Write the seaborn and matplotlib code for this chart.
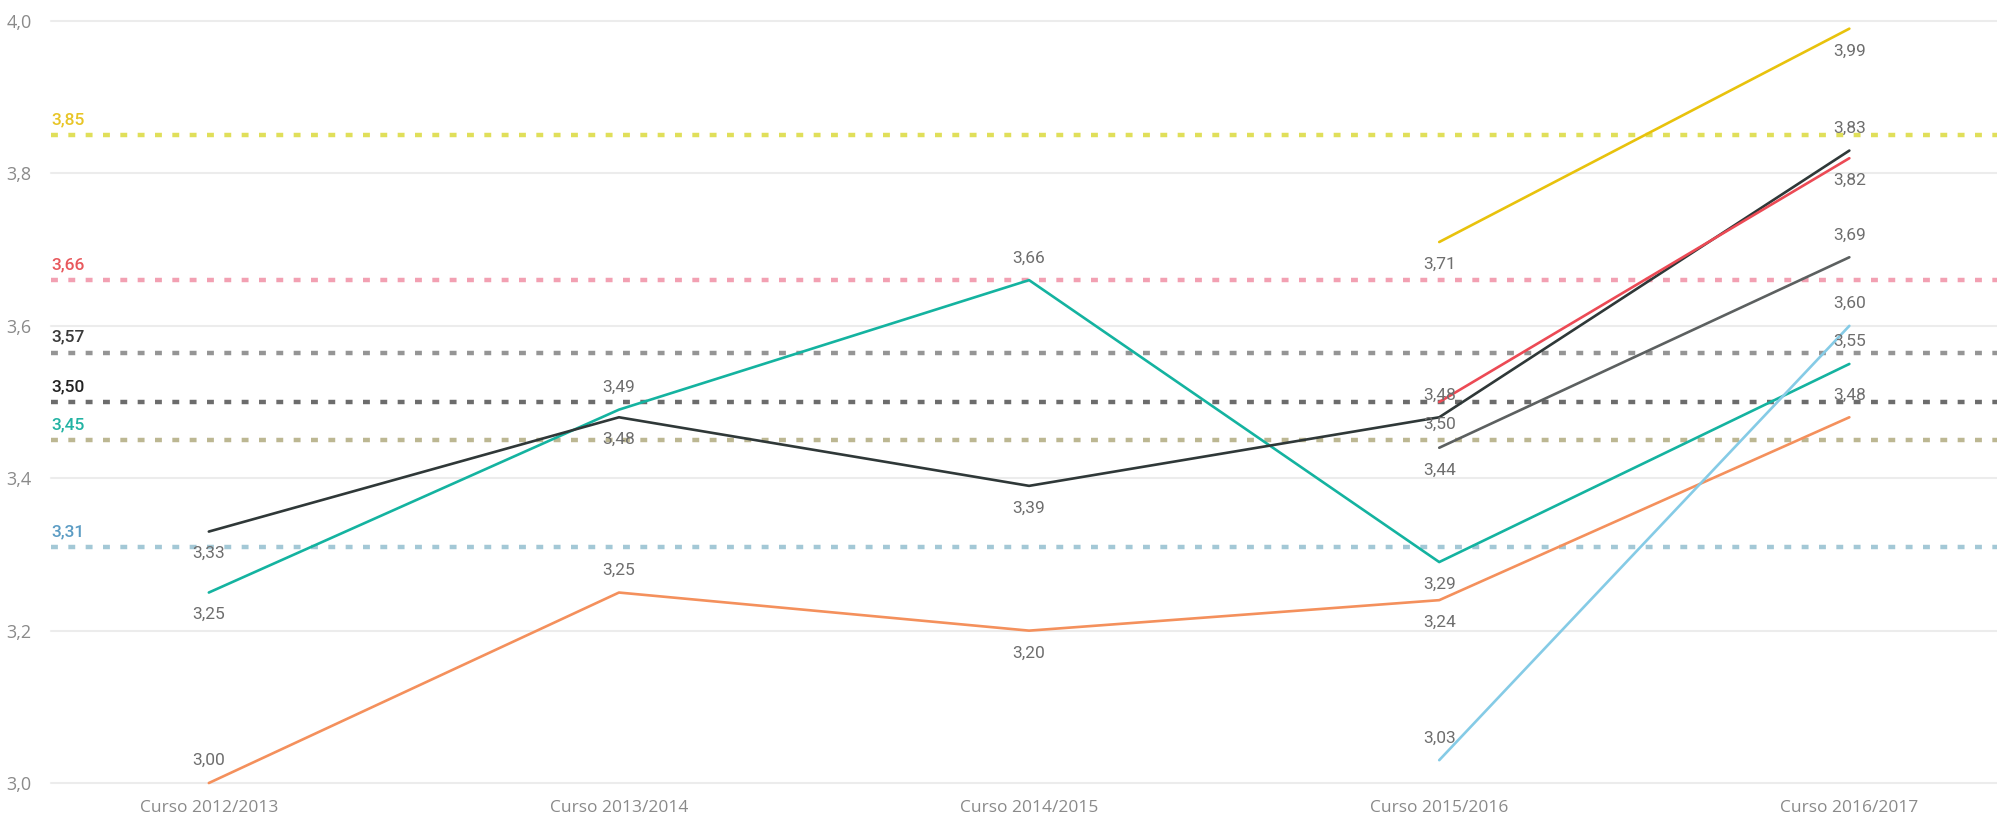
import numpy as np
import pandas as pd
import matplotlib.pyplot as plt
import seaborn as sns

# categorias y valores por serie (NaN = sin dato ese curso)
cursos = ["Curso 2012/2013", "Curso 2013/2014", "Curso 2014/2015",
          "Curso 2015/2016", "Curso 2016/2017"]
naranja = [3.00, 3.25, 3.20, 3.24, 3.48]
turquesa = [3.25, 3.49, 3.66, 3.29, 3.55]
oscuro = [3.33, 3.48, 3.39, 3.48, 3.83]
rojo = [np.nan, np.nan, np.nan, 3.50, 3.82]
gris = [np.nan, np.nan, np.nan, 3.44, 3.69]
amarillo = [np.nan, np.nan, np.nan, 3.71, 3.99]
celeste = [np.nan, np.nan, np.nan, 3.03, 3.60]

# lineas de referencia (medias)
ref_valores = [3.85, 3.66, 3.565, 3.50, 3.45, 3.31]
ref_etiquetas = ["3,85", "3,66", "3,57", "3,50", "3,45", "3,31"]

series = {"naranja": naranja, "turquesa": turquesa, "oscuro": oscuro,
          "rojo": rojo, "gris": gris, "amarillo": amarillo, "celeste": celeste}
colores = {"naranja": "#f4905c", "turquesa": "#14b3a0", "oscuro": "#2f3838",
           "rojo": "#ec4a55", "gris": "#5c6060", "amarillo": "#e8c20c",
           "celeste": "#85cbe6"}
# posicion de la etiqueta: +1 encima, -1 debajo
posicion = {"naranja": [1, 1, -1, -1, 1], "turquesa": [-1, 1, 1, -1, 1],
            "oscuro": [-1, -1, -1, 1, 1], "rojo": [0, 0, 0, -1, -1],
            "gris": [0, 0, 0, -1, 1], "amarillo": [0, 0, 0, -1, -1],
            "celeste": [0, 0, 0, 1, 1]}

ref_linea = ["#e0df5a", "#f2a0b2", "#959595", "#6c6c6c", "#bcb792", "#a3c8d6"]
ref_texto = ["#e8c526", "#e8585c", "#3a3a3a", "#222222", "#22b3a3", "#5b9cc4"]

rows = []
for name, vals in series.items():
    for i, v in enumerate(vals):
        rows.append({"serie": name, "x": i, "valor": v})
df = pd.DataFrame(rows).dropna()

sns.set_style("white")
plt.rcParams["font.family"] = ["Open Sans", "DejaVu Sans"]

fig = plt.figure(figsize=(19.97, 8.22), dpi=100)
ax = fig.add_axes([0.0255, 0.0474, 0.9745, 0.927])

for y in np.arange(3.0, 4.01, 0.2):
    ax.axhline(y, color="#ececec", lw=1.5, zorder=0)

for v, lab, lc, tc in zip(ref_valores, ref_etiquetas, ref_linea, ref_texto):
    ax.axhline(v, color=lc, lw=3.2, linestyle=(0, (1.55, 2.35)), zorder=1)
    ax.annotate(lab, xy=(0, v), xycoords=("axes fraction", "data"),
                xytext=(0, 11), textcoords="offset points", ha="left", va="center",
                fontsize=12.5, color=tc, family="Roboto", fontweight="medium")

sns.lineplot(data=df, x="x", y="valor", hue="serie", palette=colores,
             linewidth=1.9, legend=False, ax=ax, zorder=3)

for name, vals in series.items():
    for i, v in enumerate(vals):
        if np.isnan(v):
            continue
        ax.annotate(f"{v:.2f}".replace(".", ","), xy=(i, v),
                    xytext=(0, 16 * posicion[name][i]), textcoords="offset points",
                    ha="center", va="center", fontsize=12.5, color="#6e6e6e",
                    family="Roboto", zorder=4)

ax.set_xlim(-0.385, 4.36)
ax.set_ylim(3.0, 4.0)
ax.set_xticks(range(len(cursos)))
ax.set_xticklabels(cursos, fontsize=12.5, color="#8a8a8a")
ax.set_yticks(np.arange(3.0, 4.01, 0.2))
ax.set_yticklabels([f"{t:.1f}".replace(".", ",") for t in np.arange(3.0, 4.01, 0.2)],
                   fontsize=13, color="#8a8a8a")
ax.tick_params(axis="y", length=0, pad=14)
ax.tick_params(axis="x", length=0, pad=12)
ax.set_xlabel("")
ax.set_ylabel("")
sns.despine(ax=ax, left=True, bottom=True)
for line in ax.lines:
    line.set_clip_on(False)

fig.savefig("out.png", dpi=100)
